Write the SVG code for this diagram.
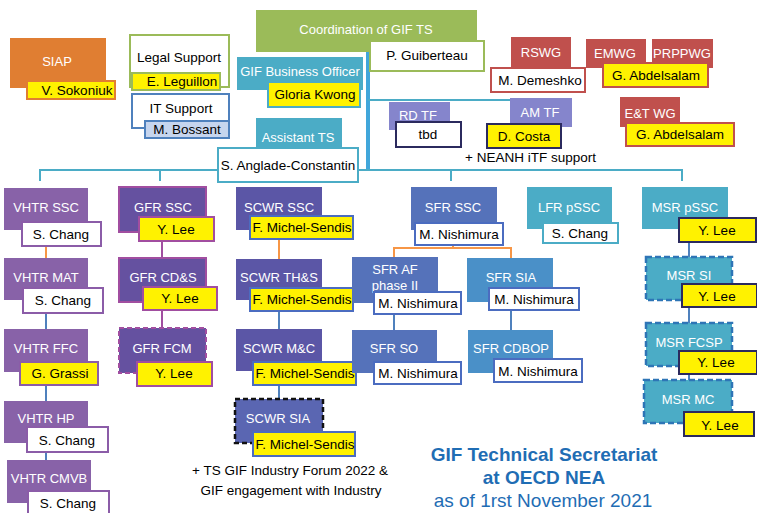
<svg xmlns="http://www.w3.org/2000/svg" width="757" height="513" viewBox="0 0 757 513">
<style>
text{font-family:"Liberation Sans",Arial,sans-serif}
.t{font-size:13px;fill:#fff;text-anchor:middle}
.n{font-size:13.5px;fill:#000;text-anchor:middle}
.y{fill:#FFF200}
.w{fill:#fff}
.vh{fill:#8862A8}
.vhb{stroke:#8B5CA8;stroke-width:2}
.gf{fill:#6551A0;stroke:#A14EA0;stroke-width:2}
.gfb{stroke:#A14EA0;stroke-width:2}
.sc{fill:#5B56A6}
.scb{stroke:#4B6CC0;stroke-width:2}
.sf{fill:#5572BA}
.sf2{fill:#4A90C8}
.lb{fill:#4BACC6}
.lbb{stroke:#4BACC6;stroke-width:2}
.nv{stroke:#2B2A5E;stroke-width:2}
.rd{fill:#C0504D}
.rdb{stroke:#C0504D;stroke-width:2}
.tf{fill:#8585CC}
.gr{stroke:#9BBB59;stroke-width:2}
.dash{stroke:#2E75B6;stroke-width:2.5;stroke-dasharray:6 3}
.c{fill:none;stroke-width:2}
.co{stroke:#F79646}
.cb{stroke:#4F81BD}
.cp{stroke:#A14EA0}
.title{fill:#1F6DB4;text-anchor:middle;font-size:19px}
</style>

<g id="connectors">
  <line x1="368" y1="52" x2="368" y2="171" stroke="#41A6DA" stroke-width="4"/>
  <line x1="368" y1="100" x2="511" y2="100" class="c" stroke="#4BACC6"/>
  <polyline points="40,181 40,170 682,170 682,181" class="c" stroke="#4BACC6" stroke-width="2.5"/>
  <line x1="160" y1="170" x2="160" y2="181" class="c" stroke="#4BACC6"/>
  <line x1="451" y1="170" x2="451" y2="181" class="c" stroke="#4BACC6"/>
  <line x1="46" y1="246" x2="46" y2="258" class="c co"/>
  <line x1="46" y1="313" x2="46" y2="329" class="c cb"/>
  <line x1="46" y1="385" x2="46" y2="401" class="c cb"/>
  <line x1="46" y1="452" x2="46" y2="460" class="c cb"/>
  <line x1="162" y1="241" x2="162" y2="258" class="c cp"/>
  <line x1="162" y1="310" x2="162" y2="328" class="c cp"/>
  <line x1="279" y1="239" x2="279" y2="259" class="c co"/>
  <line x1="279" y1="311" x2="279" y2="329" class="c cb"/>
  <line x1="279" y1="385" x2="279" y2="399" class="c cb"/>
  <polyline points="453,245 453,248" class="c co"/>
  <polyline points="394,258 394,248 511,248 511,258" class="c co"/>
  <line x1="394" y1="314" x2="394" y2="330" class="c cb"/>
  <line x1="511" y1="310" x2="511" y2="330" class="c cb"/>
  <line x1="689" y1="242" x2="689" y2="257" class="c cb"/>
  <line x1="689" y1="307" x2="689" y2="323" class="c cb"/>
  <line x1="689" y1="374" x2="689" y2="380" class="c cb"/>
</g>

<g id="siap">
  <rect x="10" y="38" width="96" height="50" fill="#E07E32"/>
  <text x="57" y="66" class="t" font-size="17">SIAP</text>
  <rect x="27" y="81" width="88" height="18" class="y" stroke="#E07E32" stroke-width="2"/>
  <text x="77" y="95" class="n">V. Sokoniuk</text>
</g>
<g id="legal">
  <rect x="130" y="35" width="99" height="52" class="w gr"/>
  <text x="179" y="62" class="n">Legal Support</text>
  <rect x="132" y="73" width="88" height="17" class="y gr"/>
  <text x="182" y="86" class="n">E. Leguillon</text>
</g>
<g id="it">
  <rect x="132" y="94" width="97" height="34" class="w" stroke="#4F81BD" stroke-width="2"/>
  <text x="181" y="113" class="n">IT Support</text>
  <rect x="145" y="121" width="84" height="17" fill="#C6D5EE" stroke="#4F81BD" stroke-width="2"/>
  <text x="187" y="134" class="n">M. Bossant</text>
</g>
<g id="coordination">
  <rect x="256" y="10" width="221" height="42" fill="#9BBB59"/>
  <text x="366" y="34" class="t" font-size="16">Coordination of GIF TS</text>
  <rect x="370" y="41" width="114" height="30" class="w gr"/>
  <text x="427" y="60" class="n" font-size="14">P. Guiberteau</text>
</g>
<g id="business-officer">
  <rect x="237" y="57" width="126" height="33" class="lb"/>
  <text x="300" y="76" class="t" font-size="13.5">GIF Business Officer</text>
  <rect x="268" y="82" width="92" height="25" class="y lbb"/>
  <text x="315" y="99" class="n" font-size="14">Gloria Kwong</text>
</g>
<g id="assistant-ts">
  <rect x="256" y="118" width="86" height="30" class="lb"/>
  <text x="298" y="142" class="t" font-size="14">Assistant TS</text>
  <rect x="218" y="148" width="140" height="34" class="w lbb"/>
  <text x="288" y="170" class="n" font-size="14">S. Anglade-Constantin</text>
</g>
<g id="rd-tf">
  <rect x="389" y="102" width="61" height="28" class="tf"/>
  <text x="418" y="120" class="t" font-size="14.5">RD TF</text>
  <rect x="396" y="122" width="65" height="25" class="w nv"/>
  <text x="428" y="139" class="n">tbd</text>
</g>
<g id="am-tf">
  <rect x="510" y="98" width="62" height="29" class="tf"/>
  <text x="540" y="117" class="t" font-size="14.5">AM TF</text>
  <rect x="487" y="124" width="74" height="24" class="y nv"/>
  <text x="524" y="141" class="n">D. Costa</text>
</g>
<text x="465" y="162" font-size="13.5" fill="#000">+ NEANH iTF support</text>
<g id="rswg">
  <rect x="511" y="37" width="60" height="31" class="rd"/>
  <text x="541" y="57" class="t" font-size="13.5">RSWG</text>
  <rect x="491" y="68" width="94" height="24" class="w rdb"/>
  <text x="540" y="85" class="n">M. Demeshko</text>
</g>
<g id="emwg">
  <rect x="586" y="39" width="60" height="29" class="rd"/>
  <text x="615" y="58" class="t" font-size="13.5">EMWG</text>
</g>
<g id="prppwg">
  <rect x="652" y="39" width="61" height="29" class="rd"/>
  <text x="682" y="58" class="t" font-size="13">PRPPWG</text>
  <rect x="603" y="63" width="105" height="24" class="y rdb"/>
  <text x="656" y="80" class="n">G. Abdelsalam</text>
</g>
<g id="et-wg">
  <rect x="620" y="97" width="60" height="30" class="rd"/>
  <text x="650" y="118" class="t" font-size="13.5">E&amp;T WG</text>
  <rect x="626" y="123" width="108" height="23" class="y rdb"/>
  <text x="680" y="139" class="n">G. Abdelsalam</text>
</g>

<g id="vhtr-ssc">
  <rect x="4" y="188" width="84" height="42" class="vh"/>
  <text x="46" y="212" class="t">VHTR SSC</text>
  <rect x="22" y="222" width="79" height="24" class="w vhb"/>
  <text x="61" y="239" class="n">S. Chang</text>
</g>
<g id="vhtr-mat">
  <rect x="4" y="258" width="84" height="42" class="vh"/>
  <text x="46" y="282" class="t">VHTR MAT</text>
  <rect x="23" y="288" width="80" height="25" class="w vhb"/>
  <text x="63" y="305" class="n">S. Chang</text>
</g>
<g id="vhtr-ffc">
  <rect x="4" y="329" width="84" height="43" class="vh"/>
  <text x="46" y="353" class="t">VHTR FFC</text>
  <rect x="20" y="362" width="78" height="23" class="y vhb"/>
  <text x="60" y="378" class="n">G. Grassi</text>
</g>
<g id="vhtr-hp">
  <rect x="4" y="401" width="84" height="42" class="vh"/>
  <text x="46" y="423" class="t">VHTR HP</text>
  <rect x="27" y="427" width="81" height="25" class="w vhb"/>
  <text x="67" y="445" class="n">S. Chang</text>
</g>
<g id="vhtr-cmvb">
  <rect x="7" y="460" width="84" height="43" class="vh"/>
  <text x="49" y="483" class="t">VHTR CMVB</text>
  <rect x="28" y="491" width="81" height="24" class="w vhb"/>
  <text x="68" y="508" class="n">S. Chang</text>
</g>

<g id="gfr-ssc">
  <rect x="119" y="187" width="87" height="45" class="gf"/>
  <text x="163" y="212" class="t">GFR SSC</text>
  <rect x="139" y="217" width="75" height="24" class="y gfb"/>
  <text x="176" y="234" class="n">Y. Lee</text>
</g>
<g id="gfr-cds">
  <rect x="119" y="258" width="87" height="44" class="gf"/>
  <text x="163" y="282" class="t">GFR CD&amp;S</text>
  <rect x="143" y="287" width="74" height="23" class="y gfb"/>
  <text x="180" y="303" class="n">Y. Lee</text>
</g>
<g id="gfr-fcm">
  <rect x="119" y="328" width="87" height="45" class="gf" stroke-dasharray="5 3"/>
  <text x="162" y="353" class="t">GFR FCM</text>
  <rect x="137" y="362" width="75" height="24" class="y gfb"/>
  <text x="174" y="378" class="n">Y. Lee</text>
</g>

<g id="scwr-ssc">
  <rect x="236" y="187" width="86" height="43" class="sc"/>
  <text x="279" y="212" class="t">SCWR SSC</text>
  <rect x="250" y="216" width="103" height="23" class="y scb"/>
  <text x="302" y="232" class="n">F. Michel-Sendis</text>
</g>
<g id="scwr-ths">
  <rect x="236" y="259" width="86" height="41" class="sc"/>
  <text x="279" y="282" class="t">SCWR TH&amp;S</text>
  <rect x="250" y="288" width="103" height="23" class="y scb"/>
  <text x="302" y="304" class="n">F. Michel-Sendis</text>
</g>
<g id="scwr-mc">
  <rect x="236" y="329" width="86" height="42" class="sc"/>
  <text x="279" y="353" class="t">SCWR M&amp;C</text>
  <rect x="253" y="362" width="103" height="23" class="y scb"/>
  <text x="305" y="378" class="n">F. Michel-Sendis</text>
</g>
<g id="scwr-sia">
  <rect x="235" y="399" width="88" height="44" fill="#5A66B2" stroke="#111" stroke-width="2.5" stroke-dasharray="5 3"/>
  <text x="278" y="423" class="t">SCWR SIA</text>
  <rect x="253" y="432" width="102" height="24" class="y scb"/>
  <text x="305" y="449" class="n">F. Michel-Sendis</text>
</g>
<text x="290" y="475" class="n">+ TS GIF Industry Forum 2022 &amp;</text>
<text x="291" y="495" class="n">GIF engagement with Industry</text>

<g id="sfr-ssc">
  <rect x="411" y="187" width="86" height="43" class="sf"/>
  <text x="453" y="212" class="t">SFR SSC</text>
  <rect x="415" y="223" width="88" height="22" class="w scb"/>
  <text x="459" y="239" class="n">M. Nishimura</text>
</g>
<g id="sfr-af">
  <rect x="352" y="257" width="86" height="46" class="sf"/>
  <text x="395" y="274" class="t">SFR AF</text>
  <text x="395" y="290" class="t">phase II</text>
  <rect x="374" y="292" width="87" height="22" class="w scb"/>
  <text x="418" y="308" class="n">M. Nishimura</text>
</g>
<g id="sfr-so">
  <rect x="352" y="330" width="85" height="43" class="sf"/>
  <text x="394" y="353" class="t">SFR SO</text>
  <rect x="374" y="362" width="87" height="22" class="w scb"/>
  <text x="418" y="378" class="n">M. Nishimura</text>
</g>
<g id="sfr-sia">
  <rect x="467" y="258" width="86" height="44" class="sf2"/>
  <text x="511" y="282" class="t">SFR SIA</text>
  <rect x="489" y="288" width="90" height="22" class="w scb"/>
  <text x="534" y="304" class="n">M. Nishimura</text>
</g>
<g id="sfr-cdbop">
  <rect x="468" y="330" width="85" height="43" class="sf2"/>
  <text x="511" y="353" class="t">SFR CDBOP</text>
  <rect x="494" y="359" width="88" height="23" class="w scb"/>
  <text x="538" y="376" class="n">M. Nishimura</text>
</g>

<g id="lfr-pssc">
  <rect x="527" y="187" width="85" height="42" class="lb"/>
  <text x="569" y="212" class="t">LFR pSSC</text>
  <rect x="543" y="223" width="75" height="20" class="w lbb"/>
  <text x="580" y="238" class="n">S. Chang</text>
</g>

<g id="msr-pssc">
  <rect x="642" y="187" width="86" height="42" class="lb"/>
  <text x="685" y="212" class="t">MSR pSSC</text>
  <rect x="679" y="218" width="77" height="24" class="y nv"/>
  <text x="717" y="235" class="n">Y. Lee</text>
</g>
<g id="msr-si">
  <rect x="646" y="257" width="86" height="43" class="lb dash"/>
  <text x="689" y="280" class="t">MSR SI</text>
  <rect x="682" y="284" width="75" height="23" class="y nv"/>
  <text x="717" y="301" class="n">Y. Lee</text>
</g>
<g id="msr-fcsp">
  <rect x="646" y="323" width="86" height="43" class="lb dash"/>
  <text x="689" y="347" class="t">MSR FCSP</text>
  <rect x="679" y="351" width="78" height="23" class="y nv"/>
  <text x="716" y="367" class="n">Y. Lee</text>
</g>
<g id="msr-mc">
  <rect x="644" y="380" width="88" height="43" class="lb dash"/>
  <text x="688" y="404" class="t">MSR MC</text>
  <rect x="684" y="412" width="70" height="24" class="y nv"/>
  <text x="720" y="430" class="n">Y. Lee</text>
</g>

<g id="title">
  <text x="544" y="461" class="title" font-weight="bold">GIF Technical Secretariat</text>
  <text x="544" y="484" class="title" font-weight="bold">at OECD NEA</text>
  <text x="543" y="507" class="title">as of 1rst November 2021</text>
</g>
</svg>
